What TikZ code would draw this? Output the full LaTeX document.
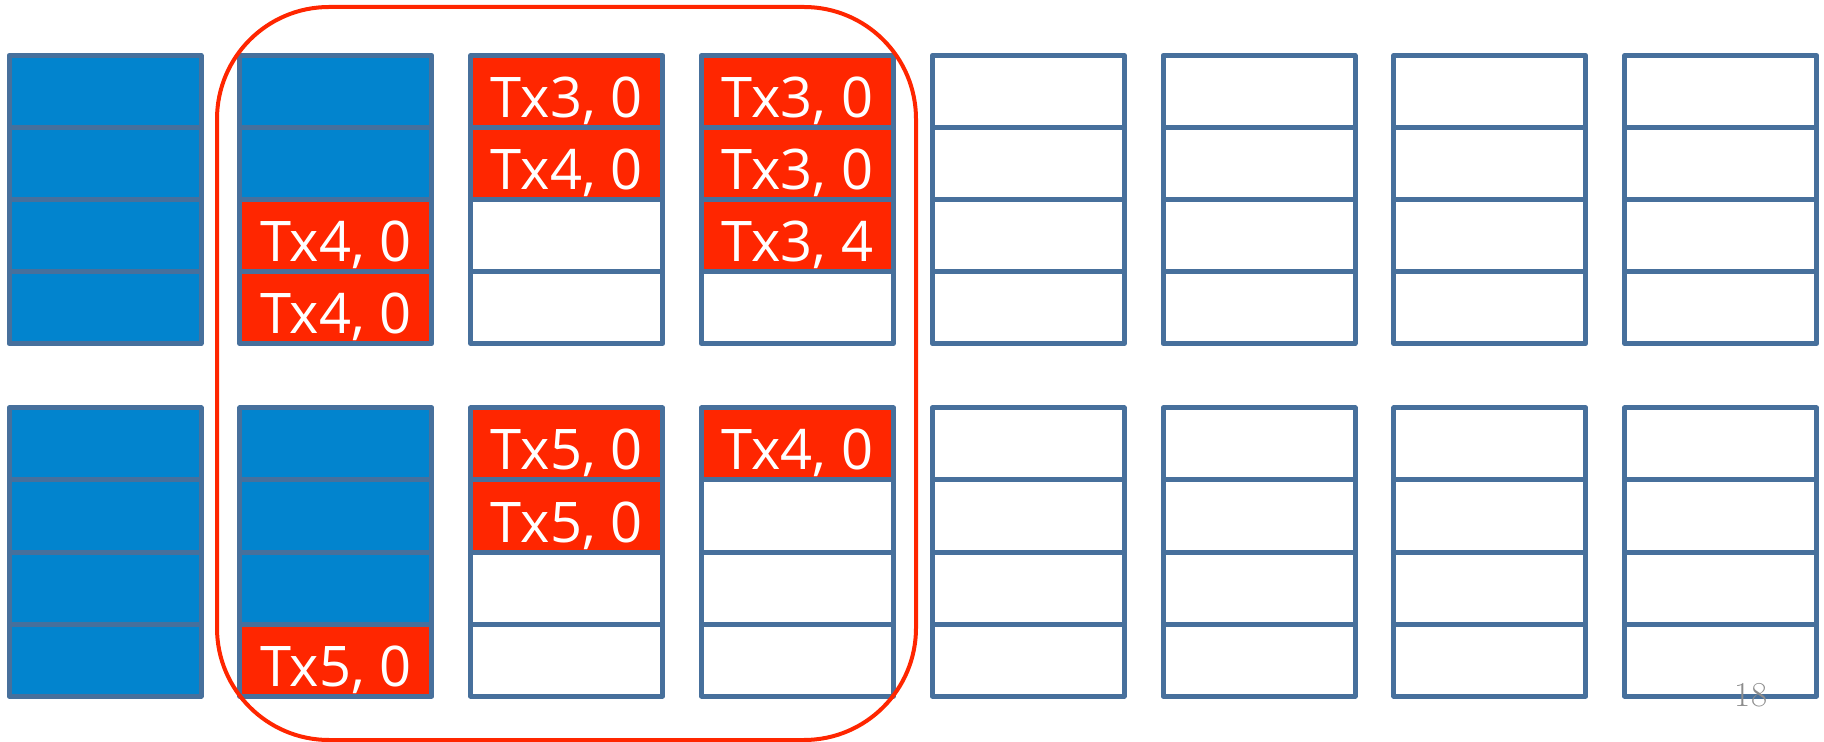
\documentclass[tikz,border=0pt]{standalone}
\usepackage{fontspec}
\newfontfamily\cellfont{Open Sans}
\definecolor{frame}{HTML}{47709C}
\definecolor{usedfill}{HTML}{0284CE}
\definecolor{txfill}{HTML}{FF2600}
\definecolor{pagenum}{HTML}{8C8C8C}

\begin{document}
\begin{tikzpicture}[x=0.5pt,y=-0.5pt,
  cell/.style={draw=frame, line width=2.5pt, line join=round,
    minimum width=96pt, minimum height=36pt, inner sep=0pt, outer sep=0pt,
    anchor=north west, font=\cellfont\fontsize{28}{30}\selectfont,
    text=white, text height=26pt, text depth=0pt},
  freecell/.style={cell, fill=white},
  usedcell/.style={cell, fill=usedfill},
  txcell/.style={cell, fill=txfill},
  groupbox/.style={draw=txfill, line width=2pt, rounded corners=56pt,
    minimum width=349.5pt, minimum height=366.5pt, inner sep=0pt},
]
\useasboundingbox (0,0) rectangle (1824,742);

% column x positions (left edge) and block tops
\def\colx#1{9+230.8*#1}

% ---- upper block (top at 55.5) ----
% empty columns 4..7 and free cells
\foreach \c in {4,...,7}
  \foreach \r in {0,...,3}
    \node[freecell] (u-\c-\r) at ({\colx{\c}},{55.5+72*\r}) {};
% column 0: all used
\foreach \r in {0,...,3}
  \node[usedcell] (u-0-\r) at ({\colx{0}},{55.5+72*\r}) {};
% column 1
\node[usedcell] (u-1-0) at ({\colx{1}},55.5) {};
\node[usedcell] (u-1-1) at ({\colx{1}},127.5) {};
\node[txcell]   (u-1-2) at ({\colx{1}},199.5) {Tx4, 0};
\node[txcell]   (u-1-3) at ({\colx{1}},271.5) {Tx4, 0};
% column 2
\node[txcell]   (u-2-0) at ({\colx{2}},55.5) {Tx3, 0};
\node[txcell]   (u-2-1) at ({\colx{2}},127.5) {Tx4, 0};
\node[freecell] (u-2-2) at ({\colx{2}},199.5) {};
\node[freecell] (u-2-3) at ({\colx{2}},271.5) {};
% column 3
\node[txcell]   (u-3-0) at ({\colx{3}},55.5) {Tx3, 0};
\node[txcell]   (u-3-1) at ({\colx{3}},127.5) {Tx3, 0};
\node[txcell]   (u-3-2) at ({\colx{3}},199.5) {Tx3, 4};
\node[freecell] (u-3-3) at ({\colx{3}},271.5) {};

% ---- lower block (top at 408) ----
\foreach \c in {4,...,7}
  \foreach \r in {0,...,3}
    \node[freecell] (l-\c-\r) at ({\colx{\c}},{408+72*\r}) {};
\foreach \r in {0,...,3}
  \node[usedcell] (l-0-\r) at ({\colx{0}},{408+72*\r}) {};
% column 1
\node[usedcell] (l-1-0) at ({\colx{1}},408) {};
\node[usedcell] (l-1-1) at ({\colx{1}},480) {};
\node[usedcell] (l-1-2) at ({\colx{1}},552) {};
\node[txcell]   (l-1-3) at ({\colx{1}},624) {Tx5, 0};
% column 2
\node[txcell]   (l-2-0) at ({\colx{2}},408) {Tx5, 0};
\node[txcell]   (l-2-1) at ({\colx{2}},480) {Tx5, 0};
\node[freecell] (l-2-2) at ({\colx{2}},552) {};
\node[freecell] (l-2-3) at ({\colx{2}},624) {};
% column 3
\node[txcell]   (l-3-0) at ({\colx{3}},408) {Tx4, 0};
\node[freecell] (l-3-1) at ({\colx{3}},480) {};
\node[freecell] (l-3-2) at ({\colx{3}},552) {};
\node[freecell] (l-3-3) at ({\colx{3}},624) {};

% highlighted group around columns 1..3
\node[groupbox] (grp) at (566.5,373.5) {};

% page number
\node[font=\fontsize{17.5}{18}\selectfont, text=pagenum, anchor=base,
  inner sep=0pt] (pg) at (1751,706) {18};
\end{tikzpicture}
\end{document}
